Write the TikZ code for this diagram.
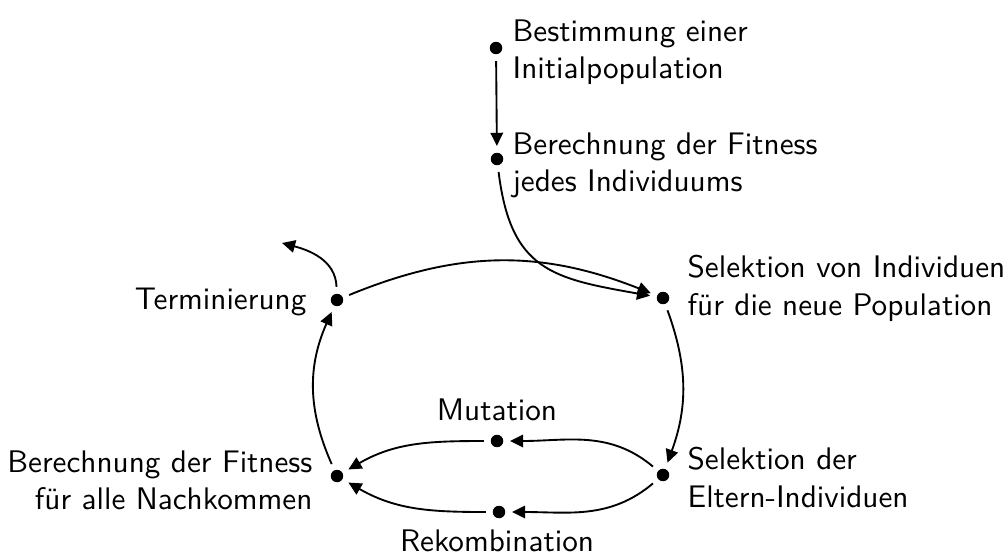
\documentclass[tikz,border=0pt]{standalone}
\usetikzlibrary{arrows.meta}
\begin{document}
\begin{tikzpicture}[x=0.3205pt,y=0.3205pt,
  dot/.style={circle,fill,inner sep=0pt,minimum size=4pt,outer sep=2.2pt},
  lbl/.style={font=\sffamily,inner sep=0pt,align=left},
  rlbl/.style={font=\sffamily,inner sep=0pt,align=right},
  flow/.style={-{Triangle[length=4.2pt,width=4pt]},line width=0.6pt},
]
\useasboundingbox (0,0) rectangle (1005,-555);

% states of the evolutionary loop
\node[dot] (A) at (496,-48) {};
\node[dot] (B) at (497,-159) {};
\node[dot] (C) at (663,-298) {};
\node[dot] (D) at (663,-475) {};
\node[dot] (M) at (497,-441) {};
\node[dot] (R) at (499,-512) {};
\node[dot] (F) at (337,-476) {};
\node[dot] (T) at (337,-300) {};
\coordinate (E) at (282,-243);

% labels
\node[lbl,anchor=north west] (tA) at (512,-19) {Bestimmung einer\\Initialpopulation};
\node[lbl,anchor=north west] (tB) at (512,-132) {Berechnung der Fitness\\jedes Individuums};
\node[lbl,anchor=north west] (tC) at (687,-255) {Selektion von Individuen\\für die neue Population};
\node[lbl,anchor=north west] (tD) at (687,-447) {Selektion der\\Eltern-Individuen};
\node[rlbl,anchor=north east] (tF) at (313,-450) {Berechnung der Fitness\\für alle Nachkommen};
\node[rlbl,anchor=north east] (tT) at (307,-287) {Terminierung};
\node[lbl,anchor=base] (tM) at (497,-420) {Mutation};
\node[lbl,anchor=base] (tR) at (497,-551) {Rekombination};

% transitions
\draw[flow] (A) -- (B);
\draw[flow] (B) to[out=-83,in=170,looseness=1.3] (C);
\draw[flow] (T) to[bend left=22] (C);
\draw[flow] (C) to[bend left=20] (D);
\draw[flow] (D) to[out=140,in=0] (M);
\draw[flow] (D) to[out=-140,in=0] (R);
\draw[flow] (M) to[out=180,in=30] (F);
\draw[flow] (R) to[out=180,in=-30] (F);
\draw[flow] (F) to[bend left=24] (T);
\draw[flow] (T) to[out=92,in=-15] (E);
\end{tikzpicture}
\end{document}
